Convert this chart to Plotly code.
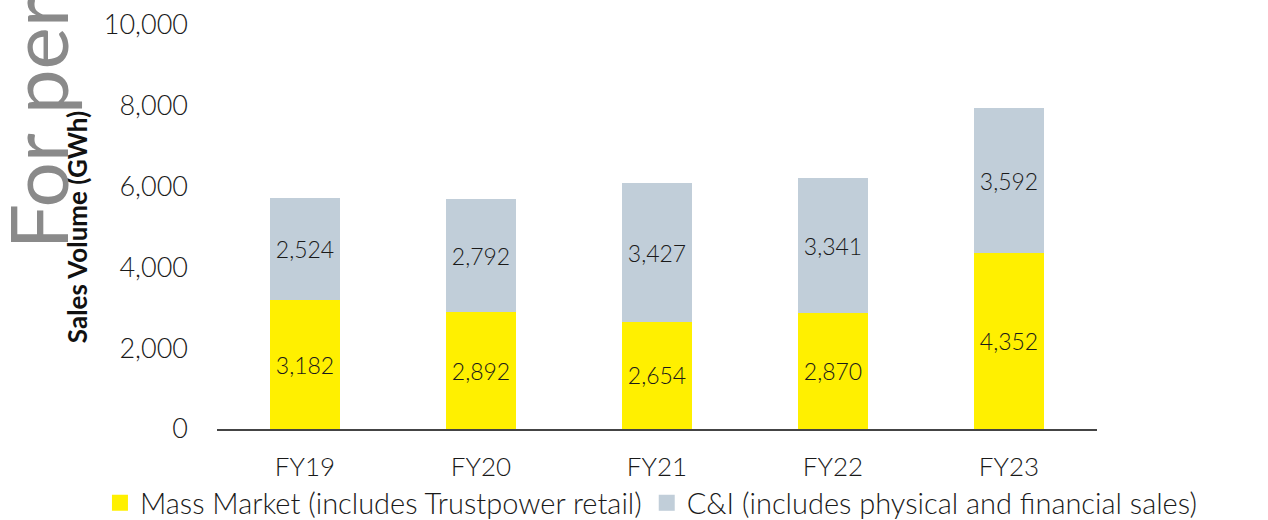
import plotly.graph_objects as go

# Annual electricity sales volume by customer segment (GWh)
years = ["FY19", "FY20", "FY21", "FY22", "FY23"]
mass_market = [3182, 2892, 2654, 2870, 4352]
c_and_i = [2524, 2792, 3427, 3341, 3592]

series_names = [
    "Mass Market (includes Trustpower retail)",
    "C&I (includes physical and financial sales)",
]
y_ticks = [0, 2000, 4000, 6000, 8000, 10000]

YELLOW = "#FFF000"
GREY = "#C1CED9"
FONT = "Lato"
INK = "#1a1a1a"

fig = go.Figure()
for name, vals, col in [(series_names[0], mass_market, YELLOW),
                        (series_names[1], c_and_i, GREY)]:
    fig.add_trace(go.Bar(
        x=years, y=vals, name=name,
        marker=dict(color=col, line=dict(width=0)),
        width=0.4,
        text=[f"{v:,}" for v in vals],
        textposition="inside",
        insidetextanchor="middle",
        textangle=0,
        constraintext="none",
        textfont=dict(family=FONT, size=23, color=INK, weight=300),
        hoverinfo="skip",
        showlegend=False,
    ))
    # larger square swatch for the legend entry
    fig.add_trace(go.Scatter(
        x=[None], y=[None], mode="markers", name=name,
        marker=dict(symbol="square", size=16, color=col),
        hoverinfo="skip",
    ))

fig.update_layout(
    barmode="stack",
    width=1268, height=520,
    margin=dict(l=217, r=171, t=25, b=91, autoexpand=False),
    paper_bgcolor="white", plot_bgcolor="white",
    font=dict(family=FONT, color=INK, size=24, weight=300),
    showlegend=True,
    legend=dict(
        orientation="h", x=-0.133, xanchor="left", y=-0.183, yanchor="middle",
        font=dict(family=FONT, size=29, color=INK, weight=300),
        itemwidth=30, traceorder="normal",
        bgcolor="rgba(0,0,0,0)",
    ),
    uniformtext=dict(minsize=23, mode="show"),
)

fig.update_xaxes(
    showline=True, linecolor="#444444", linewidth=2,
    ticks="", showgrid=False,
    tickfont=dict(family=FONT, size=26, color=INK, weight=300),
    ticklabelstandoff=14,
)
fig.update_yaxes(
    range=[0, 10000], tickvals=y_ticks,
    ticktext=[f"{v:,}" for v in y_ticks],
    showgrid=False, zeroline=False, showline=False, ticks="",
    tickfont=dict(family=FONT, size=27, color=INK, weight=300),
    ticklabelstandoff=28,
    title=dict(text="Sales Volume (GWh)", standoff=8,
               font=dict(family=FONT, size=26, color="#111111", weight=700)),
)

# Faint vertical watermark running off the top-left edge
fig.add_annotation(
    text="For personal use only",
    xref="paper", yref="paper",
    x=-0.205, y=0.44, xanchor="center", yanchor="bottom",
    textangle=-90, showarrow=False,
    font=dict(family=FONT, size=80, color="#8a8a8a", weight=400),
)

fig.write_html("out.html")
